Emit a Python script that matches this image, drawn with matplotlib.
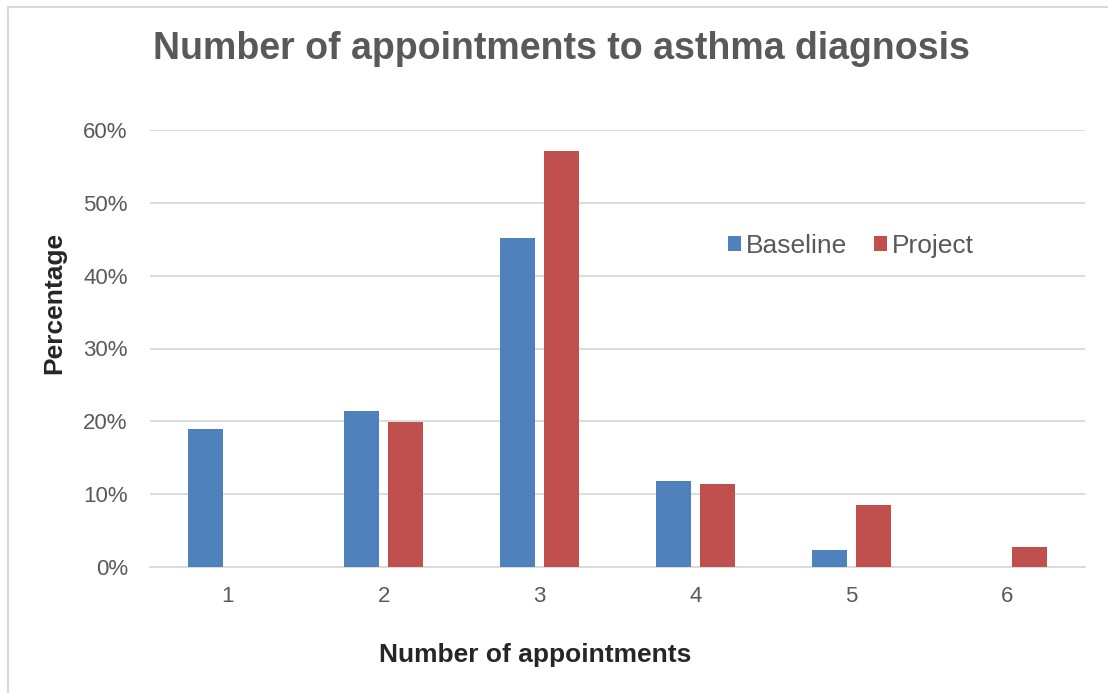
import numpy as np
import matplotlib
matplotlib.use('Agg')
import matplotlib.pyplot as plt
from matplotlib.patches import Rectangle
from matplotlib.ticker import FuncFormatter

plt.rcParams['font.family'] = ['Liberation Sans', 'DejaVu Sans']

categories = ['1', '2', '3', '4', '5', '6']
baseline = [19.0, 21.4, 45.2, 11.8, 2.3, 0.0]
project = [0.0, 19.9, 57.1, 11.4, 8.5, 2.8]

BLUE = '#4F81BD'
RED = '#C0504D'
GREY_TXT = '#595959'
GRID = '#D9D9D9'

fig = plt.figure(figsize=(11.08, 6.93), dpi=100)
ax = fig.add_axes([150 / 1108, 1 - 567 / 693, 935 / 1108, 437 / 693])

# outer chart frame
fig.patches.append(Rectangle((8 / 1108, -0.1), 1.2, 1 - 7.5 / 693 + 0.1,
                             transform=fig.transFigure, fill=False,
                             edgecolor=GRID, linewidth=1.5))

x = np.arange(len(categories))
w = 0.225
off = 0.141
ax.bar(x - off, baseline, w, color=BLUE, label='Baseline', zorder=3)
ax.bar(x + off, project, w, color=RED, label='Project', zorder=3)

ax.set_xlim(-0.5, len(categories) - 0.5)
ax.set_ylim(0, 60)
ax.set_yticks(np.arange(0, 61, 10))
ax.yaxis.set_major_formatter(FuncFormatter(lambda v, p: f'{v:.0f}%'))
ax.set_xticks(x)
ax.set_xticklabels(categories)
ax.grid(axis='y', color=GRID, linewidth=1.3, zorder=0)
ax.tick_params(length=0, labelsize=16, labelcolor=GREY_TXT)
ax.tick_params(axis='x', pad=14)
ax.tick_params(axis='y', pad=16)
for s in ['top', 'right', 'left']:
    ax.spines[s].set_visible(False)
ax.spines['bottom'].set_color(GRID)
ax.spines['bottom'].set_linewidth(1.3)

fig.text(54 / 1108, 1 - 303 / 693, 'Percentage', fontsize=19, fontweight='bold',
         color='#262626', rotation=90, ha='center', va='center')
fig.text(535 / 1108, 1 - 662 / 693, 'Number of appointments', fontsize=19,
         fontweight='bold', color='#262626', ha='center', va='baseline')

fig.text(561 / 1108, 1 - 49 / 693, 'Number of appointments to asthma diagnosis',
         fontsize=27, fontweight='bold', color=GREY_TXT, ha='center', va='center')

ax.legend(loc='center', bbox_to_anchor=((851 - 150) / 935, (567 - 246) / 437), ncol=2,
          frameon=False, fontsize=19, labelcolor=GREY_TXT, handlelength=0.5,
          handleheight=0.5, handletextpad=0.2, columnspacing=1.0)

fig.savefig('out.png', dpi=100)
